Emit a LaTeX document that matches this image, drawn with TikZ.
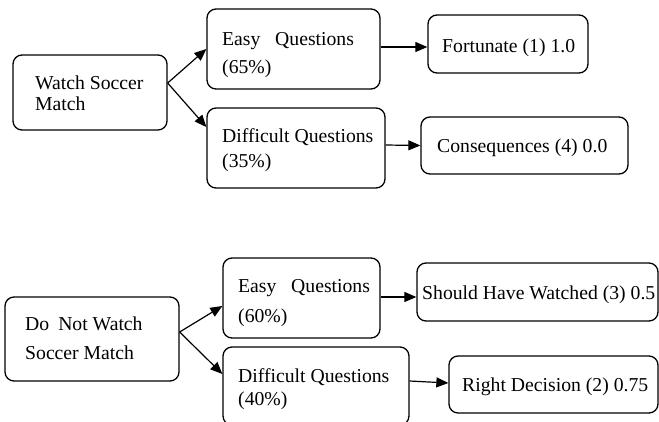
\documentclass[tikz,border=0pt]{standalone}
\usepackage{fontspec}
\setmainfont{Liberation Serif}
\usetikzlibrary{arrows.meta}
\tikzset{
  box/.style={draw, line width=1.3pt, rounded corners=9pt, inner sep=0pt},
  txt/.style={anchor=base west, inner sep=0pt, font=\fontsize{19.7}{24}\selectfont},
  conn/.style={line width=1.2pt, -{Triangle[length=12pt,width=10pt]}}
}
\newcommand{\bx}[5]{\node[box, minimum width={#4-#2}, minimum height={#5-#3}] (#1) at ({(#2+#4)/2},{(#3+#5)/2}) {};}
\begin{document}
\begin{tikzpicture}[x=1pt,y=-1pt]
\useasboundingbox (0,0) rectangle (659,421);
\clip (0,0) rectangle (659,421);
% boxes
\bx{A}{13}{55}{167}{130}
\bx{B}{207}{9}{380}{89}
\bx{C}{207}{108}{385}{188}
\bx{D}{428}{15}{588}{73}
\bx{E}{421}{117}{628}{174}
\bx{F}{5}{297}{179}{381}
\bx{G}{223}{258}{380}{338}
\bx{H}{223}{347}{409}{425}
\bx{I}{417}{263}{658}{321}
\bx{J}{449}{356}{658}{413}
% texts
\node[txt] (tA1) at (35,89) {Watch Soccer};
\node[txt] (tA2) at (35,110) {Match};
\node[txt] (tB1) at (222,45) {Easy\hspace{14.7pt}Questions};
\node[txt] (tB2) at (222,73) {(65\%)};
\node[txt] (tC1) at (222,142) {Difficult Questions};
\node[txt] (tC2) at (222,167) {(35\%)};
\node[txt] (tD) at (442,52) {Fortunate (1) 1.0};
\node[txt] (tE) at (437,152) {Consequences (4) 0.0};
\node[txt] (tF1) at (25,330) {Do\hspace{9pt}Not Watch};
\node[txt] (tF2) at (25,359) {Soccer Match};
\node[txt] (tG1) at (238,292) {Easy\hspace{14.7pt}Questions};
\node[txt] (tG2) at (238,322) {(60\%)};
\node[txt] (tH1) at (238,382) {Difficult Questions};
\node[txt] (tH2) at (238,405) {(40\%)};
\node[txt] (tI) at (422,299) {Should Have Watched (3) 0.5};
\node[txt] (tJ) at (462,391) {Right Decision (2) 0.75};
% connectors
\draw[conn] ([yshift=9.5pt]A.east) -- (B.west);
\draw[conn] ([yshift=9.5pt]A.east) -- ([yshift=21pt]C.west);
\draw[conn] ([yshift=2pt]B.east) -- ([yshift=-3pt]D.west);
\draw[conn] ([yshift=3pt]C.east) -- (E.west);
\draw[conn] ([yshift=7pt]F.east) -- ([yshift=-8pt]G.west);
\draw[conn] ([yshift=7pt]F.east) -- ([yshift=12pt]H.west);
\draw[conn] ([yshift=1pt]G.east) -- ([yshift=-5pt]I.west);
\draw[conn] ([yshift=5pt]H.east) -- ([yshift=1.5pt]J.west);
\end{tikzpicture}
\end{document}
